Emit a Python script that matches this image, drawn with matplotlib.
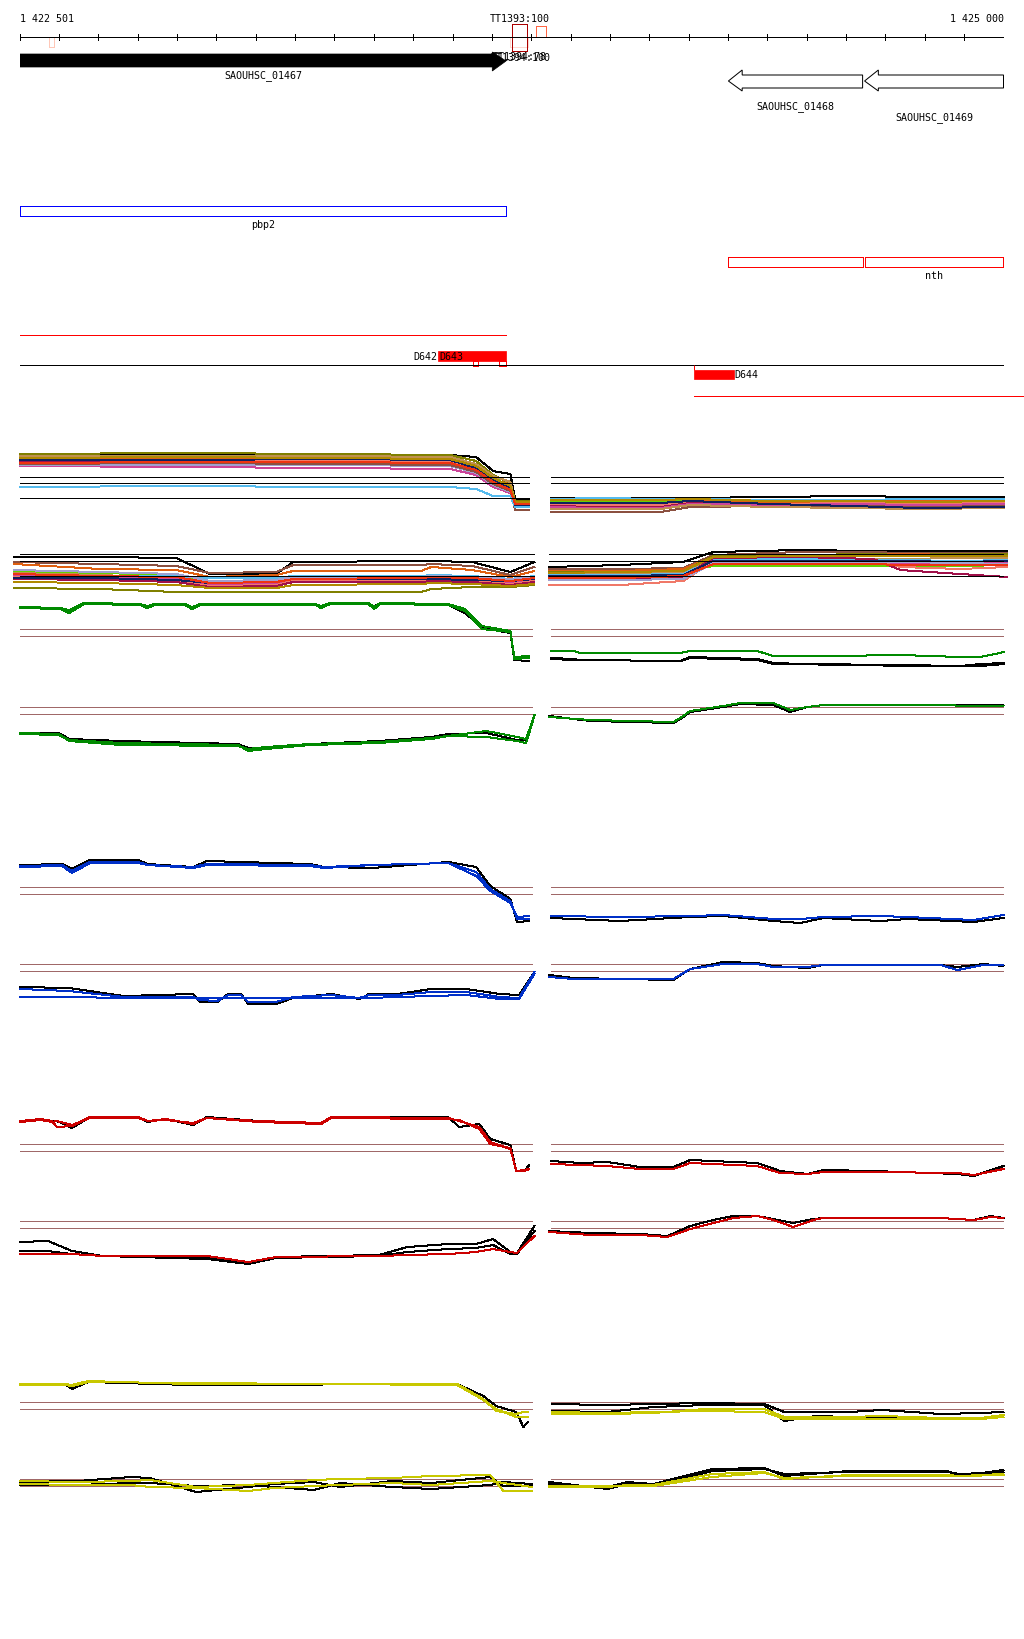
import numpy as np
import matplotlib
matplotlib.use("Agg")
import matplotlib.pyplot as plt
from matplotlib.patches import Rectangle, Polygon

plt.rcParams["font.family"] = "DejaVu Sans Mono"
plt.rcParams["font.size"] = 7.2

START = 1422501
END = 1425000
W, H = 1024, 1640
X0 = 20 / W
XW = 983.5 / W
LW = 0.72

# ---- annotation data (bp) ----
gene_names = ["SAOUHSC_01467", "SAOUHSC_01468", "SAOUHSC_01469"]
gene_start = [1422501, 1424301, 1424647]
gene_end = [1423736, 1424642, 1425000]
gene_strand = [1, -1, -1]
gene_label_y = [76, 107, 118]

pbp2_span = (1422501, 1423736)
nth_spans = [(1424301, 1424642), (1424647, 1425000)]
left_transcript = (1422501, 1423736)
right_transcript = (1424214, 1425053)

d643_span = (1423564, 1423736)
d643_marks = [(1423653, 1423665), (1423719, 1423736)]
d644_span = (1424214, 1424314)

terminators = [(1422575, 1422587, "#ffc8b8"), (1423747, 1423792, "#ffd8d0"),
               (1423752, 1423790, "#aa0000"), (1423813, 1423838, "#ff6644")]

# ---- expression tracks: x = bp offset from START, y = signal ----
a_left_x = [0, 407, 788, 1093, 1159, 1202, 1246, 1258, 1294]
a_left_y = [
    [74, 74, 74, 74, 72, 58, 55, 30, 30],
    [75, 76, 75, 74, 68, 54, 46, 28, 28],
    [72, 71, 72, 71, 64, 52, 42, 26, 26],
    [70, 70, 69, 69, 62, 50, 44, 27, 27],
    [68, 68, 68, 67, 60, 48, 40, 25, 25],
    [67, 66, 67, 66, 58, 46, 38, 24, 24],
    [63, 62, 61, 60, 54, 42, 36, 23, 23],
    [64, 64, 64, 63, 56, 44, 37, 25, 25],
    [65, 66, 65, 64, 57, 45, 38, 19, 19],
    [73, 73, 73, 72, 65, 53, 47, 26, 26],
    [42, 43, 42, 42, 40, 33, 33, 22, 22],
    [69, 69, 70, 69, 61, 49, 41, 24, 24],
    [71, 72, 71, 70, 63, 51, 43, 27, 27],
    [66, 67, 67, 66, 59, 47, 39, 25, 25],
]
a_right_x = [1350, 1474, 1627, 1703, 1907, 2110, 2288, 2501]
a_right_y = [
    [31, 31, 31, 31, 32, 33, 32, 32],
    [30, 31, 30, 30, 29, 29, 30, 30],
    [28, 27, 28, 29, 27, 25, 24, 24],
    [27, 27, 27, 28, 26, 27, 26, 27],
    [25, 25, 25, 28, 27, 27, 28, 27],
    [24, 24, 24, 27, 25, 26, 25, 26],
    [23, 22, 22, 26, 24, 24, 23, 24],
    [17, 17, 17, 22, 23, 23, 23, 23],
    [22, 21, 21, 25, 24, 25, 24, 25],
    [20, 20, 20, 24, 22, 21, 20, 21],
    [26, 26, 26, 28, 25, 23, 21, 22],
    [29, 29, 29, 30, 28, 28, 27, 28],
]
b_left_x = [-15, 203, 397, 483, 651, 694, 1019, 1045, 1149, 1246, 1307]
b_left_y = [
    [52, 52, 51, 35, 35, 47, 48, 48, 47, 37, 47],
    [47, 45, 43, 36, 37, 44, 44, 45, 43, 34, 42],
    [45, 40, 39, 32, 34, 38, 38, 42, 39, 32, 38],
    [21, 20, 17, 17, 17, 17, 17, 20, 22, 22, 24],
    [38, 36, 34, 27, 28, 31, 31, 33, 32, 29, 31],
    [36, 34, 31, 25, 26, 30, 30, 31, 30, 27, 30],
    [33, 33, 33, 31, 31, 33, 33, 34, 33, 30, 33],
    [34, 32, 30, 24, 25, 29, 29, 30, 29, 26, 29],
    [32, 30, 28, 23, 24, 28, 28, 29, 28, 25, 28],
    [30, 29, 27, 22, 23, 27, 27, 28, 27, 24, 27],
    [31, 31, 29, 26, 27, 30, 30, 30, 29, 28, 30],
    [39, 37, 35, 28, 29, 32, 32, 33, 32, 30, 32],
    [35, 33, 32, 26, 27, 30, 31, 32, 31, 28, 31],
    [27, 26, 24, 21, 21, 24, 25, 26, 25, 23, 25],
]
b_right_x = [1345, 1525, 1685, 1762, 1983, 2168, 2237, 2389, 2509]
b_right_y = [
    [42, 44, 47, 57, 59, 58, 58, 58, 58],
    [40, 40, 41, 54, 57, 57, 56, 56, 56],
    [38, 38, 40, 52, 54, 54, 55, 54, 54],
    [37, 37, 38, 53, 54, 55, 54, 55, 55],
    [36, 36, 37, 43, 43, 43, 43, 43, 44],
    [35, 35, 36, 50, 51, 50, 50, 51, 51],
    [34, 34, 35, 49, 50, 49, 49, 48, 49],
    [32, 33, 34, 47, 47, 46, 45, 45, 46],
    [24, 24, 28, 48, 48, 48, 42, 40, 42],
    [30, 30, 32, 51, 52, 50, 39, 35, 32],
    [33, 33, 34, 48, 48, 48, 48, 47, 48],
    [29, 29, 30, 46, 46, 47, 47, 46, 45],
    [31, 31, 33, 45, 45, 45, 44, 44, 44],
    [36, 37, 38, 52, 53, 53, 53, 53, 53],
]
a_left_col = [13, 0, 1, 2, 3, 4, 5, 9, 7, 8, 6, 10, 12, 11]
a_right_col = [13, 6, 0, 1, 2, 3, 4, 7, 5, 8, 10, 12]
b_col = [13, 7, 2, 0, 1, 8, 6, 5, 3, 4, 10, 9, 11, 12]

c_left_x = [0, 102, 125, 163, 305, 323, 343, 419, 437, 458, 750, 765, 788, 885,
            900, 915, 1088, 1131, 1174, 1246, 1256, 1294]
c_left_y = [
    [71, 71, 68, 75, 74, 72, 74, 74, 71, 74, 74, 72, 75, 75, 73, 75, 74, 66, 51, 46, 19, 18],
    [72, 71, 69, 76, 75, 73, 75, 75, 72, 75, 75, 73, 76, 76, 72, 76, 75, 70, 53, 48, 22, 23],
    [71, 70, 66, 75, 74, 71, 74, 74, 70, 74, 74, 71, 75, 75, 70, 75, 74, 68, 50, 47, 20, 21],
]
c_right_x = [1350, 1406, 1424, 1678, 1703, 1873, 1914, 2067, 2237, 2389, 2440, 2501]
c_right_y = [
    [21, 20, 19, 18, 22, 20, 16, 14, 14, 13, 15, 16],
    [20, 19, 19, 18, 21, 19, 15, 15, 13, 13, 13, 15],
    [28, 28, 26, 26, 28, 28, 23, 23, 24, 22, 22, 27],
]
d_left_x = [0, 99, 125, 257, 554, 580, 625, 737, 913, 1045, 1088, 1185, 1263, 1286, 1307]
d_left_y = [
    [26, 26, 20, 18, 15, 11, 11, 15, 18, 22, 25, 26, 19, 19, 44],
    [26, 25, 18, 14, 13, 10, 12, 15, 17, 21, 23, 28, 22, 20, 44],
    [25, 24, 19, 16, 14, 8, 10, 14, 16, 20, 23, 22, 18, 16, 43],
]
d_right_x = [1345, 1449, 1660, 1678, 1703, 1787, 1830, 1914, 1957, 2001, 2041, 2255, 2499]
d_right_y = [
    [43, 38, 36, 40, 47, 52, 55, 54, 47, 52, 54, 54, 54],
    [42, 39, 37, 41, 48, 53, 56, 56, 49, 52, 54, 54, 53],
]
e_left_x = [0, 107, 132, 178, 300, 325, 440, 475, 737, 773, 895, 1088, 1159, 1195, 1246, 1263, 1294]
e_left_y = [
    [69, 70, 65, 74, 74, 70, 67, 73, 70, 67, 66, 72, 67, 48, 35, 12, 13],
    [68, 69, 63, 72, 72, 69, 67, 70, 69, 67, 69, 71, 62, 45, 33, 15, 15],
    [67, 68, 61, 71, 71, 69, 66, 69, 68, 66, 69, 71, 58, 43, 31, 17, 18],
]
e_right_x = [1350, 1525, 1703, 1787, 1914, 1983, 2041, 2186, 2255, 2423, 2499]
e_right_y = [
    [16, 13, 17, 18, 13, 11, 16, 13, 15, 12, 16],
    [18, 17, 18, 19, 15, 15, 17, 18, 17, 14, 19],
]
f_left_x = [0, 125, 264, 440, 458, 501, 529, 562, 580, 651, 694, 791, 862, 887, 958,
            1045, 1134, 1220, 1268, 1307]
f_left_y = [
    [27, 26, 18, 20, 12, 12, 20, 20, 10, 10, 16, 20, 15, 20, 20, 25, 25, 20, 19, 42],
    [25, 23, 17, 17, 14, 13, 19, 19, 12, 12, 17, 19, 16, 19, 19, 22, 22, 17, 16, 42],
    [17, 17, 16, 16, 16, 16, 16, 16, 16, 16, 16, 16, 16, 16, 17, 18, 19, 15, 15, 40],
]
f_right_x = [1345, 1406, 1660, 1703, 1787, 1873, 1914, 2001, 2041, 2339, 2382, 2448, 2499]
f_right_y = [
    [39, 36, 34, 45, 52, 51, 48, 46, 49, 49, 47, 50, 48],
    [37, 35, 35, 45, 50, 50, 47, 47, 49, 49, 44, 49, 49],
]
g_left_x = [0, 53, 81, 94, 132, 178, 300, 325, 371, 440, 475, 608, 765, 791, 1088,
            1116, 1167, 1195, 1246, 1261, 1281, 1294]
g_left_y = [
    [68, 70, 68, 68, 61, 72, 72, 67, 70, 64, 72, 68, 65, 72, 72, 62, 65, 50, 44, 18, 18, 24],
    [68, 70, 68, 62, 63, 72, 72, 68, 70, 65, 71, 68, 66, 72, 71, 68, 62, 47, 40, 18, 19, 20],
    [67, 69, 67, 68, 64, 71, 71, 68, 69, 66, 71, 67, 65, 71, 70, 69, 60, 45, 41, 18, 18, 20],
]
g_right_x = [1350, 1424, 1492, 1576, 1660, 1703, 1873, 1932, 2001, 2041, 2168, 2382, 2423, 2499]
g_right_y = [
    [28, 26, 27, 22, 22, 29, 26, 18, 15, 19, 18, 15, 13, 23],
    [25, 24, 23, 20, 20, 26, 23, 16, 15, 17, 17, 16, 14, 20],
]
h_left_x = [0, 71, 132, 211, 475, 580, 651, 913, 984, 1088, 1159, 1202, 1246, 1263, 1307]
h_left_y = [
    [32, 33, 23, 18, 17, 12, 17, 19, 27, 30, 30, 35, 22, 21, 48],
    [23, 23, 20, 18, 15, 10, 16, 18, 22, 25, 26, 29, 20, 20, 43],
    [20, 20, 20, 18, 18, 12, 17, 18, 19, 20, 22, 25, 22, 21, 38],
]
h_right_x = [1345, 1449, 1576, 1645, 1703, 1762, 1812, 1873, 1914, 1965, 2016, 2041,
             2339, 2423, 2466, 2499]
h_right_y = [
    [43, 41, 40, 38, 48, 54, 58, 58, 55, 51, 55, 56, 56, 54, 58, 56],
    [42, 39, 39, 37, 45, 51, 56, 58, 54, 47, 54, 56, 56, 54, 57, 56],
]
i_left_x = [0, 114, 132, 173, 430, 1111, 1177, 1210, 1261, 1279, 1291]
i_left_y = [
    [55, 55, 50, 57, 54, 55, 43, 33, 27, 12, 17],
    [55, 55, 54, 58, 55, 55, 40, 28, 25, 27, 27],
    [54, 54, 53, 57, 56, 54, 39, 30, 22, 22, 22],
]
i_right_x = [1352, 1492, 1609, 1741, 1891, 1942, 2023, 2107, 2191, 2341, 2440, 2499]
i_right_y = [
    [35, 34, 35, 36, 35, 27, 27, 27, 29, 25, 26, 27],
    [28, 27, 32, 34, 34, 18, 23, 22, 21, 21, 21, 24],
    [25, 25, 26, 30, 30, 22, 22, 22, 23, 21, 21, 24],
    [27, 26, 27, 28, 27, 20, 20, 20, 20, 20, 20, 22],
]
j_left_x = [0, 147, 282, 330, 447, 580, 646, 747, 813, 946, 1045, 1195, 1228, 1301]
j_left_y = [
    [17, 18, 22, 21, 7, 12, 15, 17, 12, 18, 16, 22, 13, 13],
    [14, 14, 16, 16, 13, 14, 12, 9, 16, 12, 10, 14, 17, 15],
    [18, 17, 18, 19, 12, 14, 16, 19, 20, 21, 23, 24, 8, 8],
    [15, 14, 14, 12, 11, 8, 11, 13, 14, 16, 14, 18, 16, 12],
]
j_right_x = [1345, 1492, 1543, 1609, 1759, 1891, 1942, 2107, 2356, 2389, 2499]
j_right_y = [
    [15, 12, 17, 15, 30, 31, 23, 28, 28, 23, 29],
    [17, 10, 15, 13, 28, 30, 25, 27, 27, 25, 27],
    [13, 12, 14, 14, 25, 27, 20, 24, 24, 23, 25],
    [12, 13, 13, 13, 22, 26, 21, 23, 23, 23, 24],
]

palette = ["#808000", "#66d000", "#e06010", "#f07868", "#a0104a", "#cc4499",
           "#55bbee", "#8b5040", "#c09050", "#a0a0d0", "#102060", "#ee3311",
           "#b08a00", "#000000"]
GREEN, BLUE, RED, YELLOW = "#008a00", "#0030c8", "#cc0000", "#c8c800"
BROWN = "#a06868"

fig = plt.figure(figsize=(W / 100, H / 100), dpi=100)
fig.patch.set_facecolor("white")


def row_axes(top, bottom):
    ax = fig.add_axes([X0, 1 - bottom / H, XW, (bottom - top) / H])
    ax.set_xlim(START, END)
    ax.set_ylim(0, bottom - top)
    ax.set_axis_off()
    ax.patch.set_alpha(0)
    return ax


def draw(ax, xs, ys, colors):
    xs = START + np.asarray(xs)
    for y, c in zip(ys, colors):
        ax.plot(xs, y, color=c, lw=LW, antialiased=False, clip_on=False)


def levels(ax, ys, spans, color):
    for a, b in spans:
        ax.hlines(ys, START + a, START + b, colors=color, lw=LW, antialiased=False)


# ---- annotation area ----
ax0 = fig.add_axes([X0, 1 - 410 / H, XW, 410 / H])
ax0.set_xlim(START, END)
ax0.set_ylim(410, 0)
ax0.set_axis_off()
ax0.patch.set_alpha(0)

ax0.hlines(37.5, START, END, color="black", lw=LW, antialiased=False)
ticks = [START] + list(range(1422600, END, 100)) + [END]
ax0.vlines(ticks, 35, 41, color="black", lw=LW, antialiased=False)
ax0.text(START, 19, "1 422 501", ha="left", va="center")
ax0.text(END, 19, "1 425 000", ha="right", va="center")
ax0.text(1423771, 19, "TT1393:100", ha="center", va="center")

for a, b, c in terminators:
    top, hgt = (25, 27) if c == "#aa0000" else ((27, 11) if c == "#ff6644" else (38, 10))
    ax0.add_patch(Rectangle((a, top), b - a, hgt, fill=False, edgecolor=c, lw=LW,
                            antialiased=False))
ax0.text(1423771, 57, "TT1394:78", ha="center", va="center")
ax0.text(1423774, 58, "TT1394:100", ha="center", va="center")

for name, s, e, strand, ly in zip(gene_names, gene_start, gene_end, gene_strand, gene_label_y):
    head = 35
    if strand == 1:
        pts = [(s, 55), (e - head, 55), (e - head, 53), (e, 62), (e - head, 72),
               (e - head, 68), (s, 68)]
        ax0.add_patch(Polygon(pts, closed=True, facecolor="black", edgecolor="black", lw=0.5))
    else:
        pts = [(e, 76), (s + head, 76), (s + head, 71), (s, 82), (s + head, 92),
               (s + head, 89), (e, 89)]
        ax0.add_patch(Polygon(pts, closed=True, facecolor="white", edgecolor="black", lw=LW))
    ax0.text((s + e) / 2, ly, name, ha="center", va="center")

ax0.add_patch(Rectangle((pbp2_span[0], 207), pbp2_span[1] - pbp2_span[0], 10,
                        fill=False, edgecolor="#0000ff", lw=LW, antialiased=False))
ax0.text(sum(pbp2_span) / 2, 225, "pbp2", ha="center", va="center")
for a, b in nth_spans:
    ax0.add_patch(Rectangle((a, 258), b - a, 10, fill=False, edgecolor="#ff0000", lw=LW,
                            antialiased=False))
ax0.text(sum(nth_spans[1]) / 2, 276, "nth", ha="center", va="center")

ax0.hlines(336, *left_transcript, color="#ff0000", lw=LW, antialiased=False)
ax0.add_patch(Rectangle((d643_span[0], 352), d643_span[1] - d643_span[0], 10,
                        facecolor="#ff0000", edgecolor="#ff0000", lw=0.5))
for a, b in d643_marks:
    ax0.add_patch(Rectangle((a, 362), b - a, 5, facecolor="white", edgecolor="#ff0000",
                            lw=LW, antialiased=False))
ax0.text(d643_span[0] - 3, 357, "D642", ha="right", va="center")
ax0.text(d643_span[0] + 3, 357, "D643", ha="left", va="center")
ax0.hlines(366, START, END, color="black", lw=LW, antialiased=False)
ax0.vlines(d644_span[0], 366, 371, color="#ff0000", lw=LW)
ax0.add_patch(Rectangle((d644_span[0], 371), d644_span[1] - d644_span[0], 9,
                        facecolor="#ff0000", edgecolor="#ff0000", lw=0.5))
ax0.text(d644_span[1] + 2, 375, "D644", ha="left", va="center")
ax0.hlines(397, *right_transcript, color="#ff0000", lw=LW, clip_on=False, antialiased=False)

LEFT = [(0, 1294)]
RIGHT = [(1350, 2501)]

# multicolour rows
ax = row_axes(430, 530)
draw(ax, a_left_x, a_left_y, [palette[i] for i in a_left_col])
draw(ax, a_right_x, a_right_y, [palette[i] for i in a_right_col])
levels(ax, [52, 46, 31], LEFT, "black")
levels(ax, [52, 46], RIGHT, "black")

ax = row_axes(530, 610)
draw(ax, b_left_x, b_left_y, [palette[i] for i in b_col])
draw(ax, b_right_x, b_right_y, [palette[i] for i in b_col])
levels(ax, [55, 48, 33], [(-15, 1307), (1345, 2509)], "black")

# paired rows
rows = [
    (590, 680, c_left_x, c_left_y, ["black", GREEN, GREEN], c_right_x, c_right_y,
     ["black", "black", GREEN], [50, 43]),
    (690, 760, d_left_x, d_left_y, ["black", GREEN, GREEN], d_right_x, d_right_y,
     ["black", GREEN], [52, 45]),
    (845, 935, e_left_x, e_left_y, ["black", BLUE, BLUE], e_right_x, e_right_y,
     ["black", BLUE], [47, 40]),
    (950, 1015, f_left_x, f_left_y, ["black", BLUE, BLUE], f_right_x, f_right_y,
     ["black", BLUE], [50, 43]),
    (1105, 1190, g_left_x, g_left_y, ["black", RED, RED], g_right_x, g_right_y,
     ["black", RED], [45, 38]),
    (1210, 1275, h_left_x, h_left_y, ["black", "black", RED], h_right_x, h_right_y,
     ["black", RED], [53, 46]),
    (1375, 1440, i_left_x, i_left_y, ["black", YELLOW, YELLOW], i_right_x, i_right_y,
     ["black", "black", YELLOW, YELLOW], [37, 30]),
    (1465, 1500, j_left_x, j_left_y, ["black", "black", YELLOW, YELLOW], j_right_x, j_right_y,
     ["black", "black", YELLOW, YELLOW], [20, 13]),
]
for top, bottom, lx, ly, lc, rx, ry, rc, lev in rows:
    ax = row_axes(top, bottom)
    levels(ax, lev, [(0, 1300), (1350, 2501)], BROWN)
    draw(ax, lx, ly, lc)
    draw(ax, rx, ry, rc)

fig.savefig("out.png", dpi=100, facecolor="white")
